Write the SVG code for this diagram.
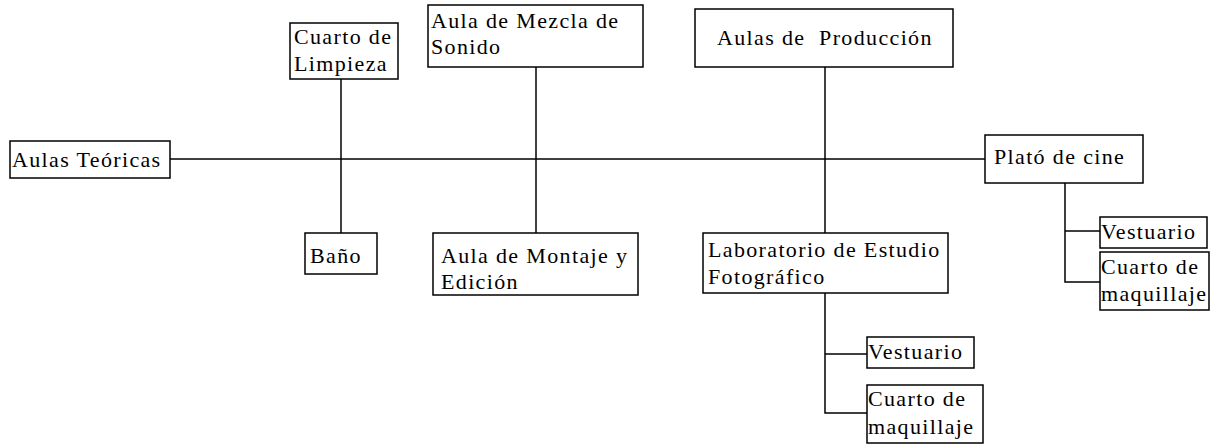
<svg xmlns="http://www.w3.org/2000/svg" width="1220" height="444" viewBox="0 0 1220 444">
<style>
rect{fill:#fff;stroke:#000;stroke-width:1.5}
text{font-family:"Liberation Serif","Times New Roman",serif;font-size:22px;fill:#000;letter-spacing:1.35px}
#connectors line,#connectors polyline{stroke:#000;stroke-width:1.5;fill:none}
</style>
<rect width="1220" height="444" style="fill:#fff;stroke:none"/>
<g id="connectors">
<line x1="170" y1="159" x2="985" y2="159"/>
<line x1="341" y1="79" x2="341" y2="233"/>
<line x1="536" y1="67" x2="536" y2="233"/>
<line x1="825" y1="67" x2="825" y2="233"/>
<polyline points="825,293 825,413 867,413"/>
<line x1="825" y1="354" x2="867" y2="354"/>
<polyline points="1065,183 1065,282 1100,282"/>
<line x1="1065" y1="231" x2="1100" y2="231"/>
</g>
<g id="aulas-teoricas"><rect x="10" y="141" width="160" height="37"/><text x="12" y="167">Aulas Teóricas</text></g>
<g id="cuarto-limpieza"><rect x="290" y="23" width="108" height="56"/><text x="294" y="44">Cuarto de</text><text x="294" y="71">Limpieza</text></g>
<g id="aula-mezcla"><rect x="428" y="5" width="215" height="62"/><text x="431" y="28">Aula de Mezcla de</text><text x="431" y="54">Sonido</text></g>
<g id="aulas-produccion"><rect x="695" y="9" width="258" height="58"/><text x="717" y="45" xml:space="preserve">Aulas de  Producción</text></g>
<g id="plato-cine"><rect x="985" y="135" width="158" height="48"/><text x="994" y="164">Plató de cine</text></g>
<g id="bano"><rect x="305" y="233" width="72" height="41"/><text x="310" y="263">Baño</text></g>
<g id="aula-montaje"><rect x="433" y="233" width="205" height="62"/><text x="441" y="263">Aula de Montaje y</text><text x="441" y="289">Edición</text></g>
<g id="laboratorio"><rect x="703" y="233" width="245" height="60"/><text x="708" y="257">Laboratorio de Estudio</text><text x="708" y="284">Fotográfico</text></g>
<g id="vestuario-lab"><rect x="867" y="337" width="107" height="31"/><text x="868" y="359">Vestuario</text></g>
<g id="maquillaje-lab"><rect x="867" y="385" width="116" height="58"/><text x="868" y="406">Cuarto de</text><text x="868" y="434">maquillaje</text></g>
<g id="vestuario-plato"><rect x="1100" y="217" width="107" height="31"/><text x="1101" y="239">Vestuario</text></g>
<g id="maquillaje-plato"><rect x="1100" y="252" width="109" height="58"/><text x="1101" y="274">Cuarto de</text><text x="1101" y="301">maquillaje</text></g>
</svg>
